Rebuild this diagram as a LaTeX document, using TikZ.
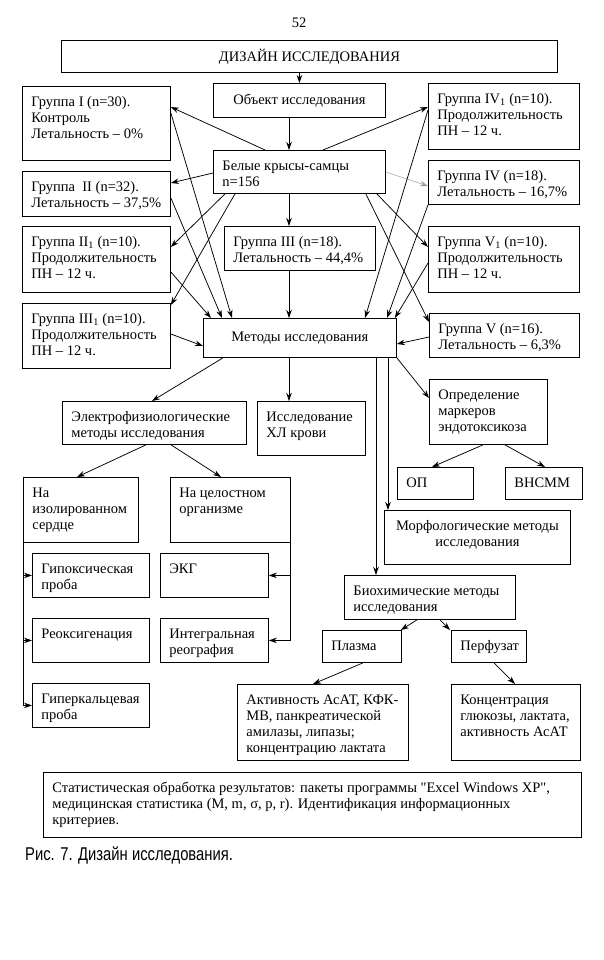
\documentclass[tikz,border=0pt]{standalone}
\usepackage{fontspec}
\setmainfont{Liberation Serif}
\newfontfamily\capf[FakeStretch=0.8]{Liberation Sans}
\usetikzlibrary{arrows.meta,calc}
\newcommand\bx[3]{\parbox[t][\dimexpr#2pt-17pt\relax][t]{\dimexpr#1pt-18pt\relax}{\raggedright\strut#3}}
\newcommand\bxc[3]{\parbox[t][\dimexpr#2pt-17pt\relax][c]{\dimexpr#1pt-18pt\relax}{\centering#3}}
\tikzset{
  bxs/.style={draw, line width=0.85pt, inner xsep=9pt, inner ysep=8.5pt, anchor=north west, font=\fontsize{14.5}{16}\selectfont},
  arr/.style={line width=0.75pt, -{Stealth[length=8pt,width=5.5pt]}},
  garr/.style={arr, draw=gray!75, line width=0.5pt},
  plain/.style={font=\fontsize{14.5}{16}\selectfont, inner sep=0pt}
}
\begin{document}
\begin{tikzpicture}[x=1pt,y=-1pt]
\fill[white] (0,0) rectangle (604,960);
\useasboundingbox (0,0) rectangle (604,960);

\node[plain] (pg) at (299,23) {52};

\node[bxs] (ttl) at (61,40) {\bxc{496}{32}{ДИЗАЙН ИССЛЕДОВАНИЯ}};
\node[bxs] (obj) at (213,83) {\bxc{172}{34}{Объект исследования}};
\node[bxs] (wh) at (213,150) {\bx{172}{43}{Белые крысы-самцы\\n=156}};

\node[bxs] (g1) at (22,86) {\bx{148}{74}{Группа I (n=30).\\Контроль\\Летальность – 0\%}};
\node[bxs] (g2) at (22,171) {\bx{148}{45}{Группа~ II (n=32).\\Летальность – 37,5\%}};
\node[bxs] (g21) at (22,226) {\bx{148}{66}{Группа II\textsubscript{1} (n=10).\\Продолжительность\\ПН – 12 ч.}};
\node[bxs] (g31) at (22,303) {\bx{148}{65}{Группа III\textsubscript{1} (n=10).\\Продолжительность\\ПН – 12 ч.}};
\node[bxs] (g3) at (224,226) {\bx{151}{44}{Группа III (n=18).\\Летальность – 44,4\%}};

\node[bxs] (g41) at (428,83) {\bx{151}{66}{Группа IV\textsubscript{1} (n=10).\\Продолжительность\\ПН – 12 ч.}};
\node[bxs] (g4) at (428,160) {\bx{151}{44}{Группа IV (n=18).\\Летальность – 16,7\%}};
\node[bxs] (g51) at (428,226) {\bx{151}{66}{Группа V\textsubscript{1} (n=10).\\Продолжительность\\ПН – 12 ч.}};
\node[bxs] (g5) at (429,313) {\bx{150}{44}{Группа V (n=16).\\Летальность – 6,3\%}};

\node[bxs] (met) at (203,318) {\bxc{193}{39}{Методы исследования}};

\node[bxs] (el) at (62,401) {\bx{184}{43}{Электрофизиологические\\методы исследования}};
\node[bxs] (xl) at (257,401) {\bx{108}{54}{Исследование\\ХЛ крови}};
\node[bxs] (opr) at (429,379) {\bx{118}{65}{Определение\\маркеров\\эндотоксикоза}};
\node[bxs] (op) at (397,467) {\bx{76}{32}{ОП}};
\node[bxs] (vn) at (505,467) {\bx{77}{32}{ВНСММ}};

\node[bxs] (iso) at (23,477) {\bx{115}{65}{На\\изолированном\\сердце}};
\node[bxs] (cel) at (170,477) {\bx{120}{65}{На целостном\\организме}};
\node[bxs] (mor) at (384,510) {\bx{186}{54}{\centering Морфологические методы\\исследования}};

\node[bxs] (hyp) at (32,553) {\bx{117}{44}{Гипоксическая\\проба}};
\node[bxs] (ekg) at (160,553) {\bx{108}{44}{ЭКГ}};
\node[bxs] (reo) at (32,618) {\bx{117}{44}{Реоксигенация}};
\node[bxs] (integ) at (160,618) {\bx{108}{44}{Интегральная\\реография}};
\node[bxs] (hyc) at (32,683) {\bx{117}{44}{Гиперкальцевая\\проба}};

\node[bxs] (bio) at (344,575) {\bx{171}{44}{Биохимические методы\\исследования}};
\node[bxs] (pla) at (322,630) {\bx{79}{32}{Плазма}};
\node[bxs] (per) at (451,630) {\bx{75}{32}{Перфузат}};
\node[bxs] (act) at (237,684) {\bx{171}{76}{\mbox{Активность АсАТ, КФК-}\\МВ, панкреатической\\амилазы, липазы;\\концентрацию лактата}};
\node[bxs] (con) at (451,684) {\bx{129}{76}{Концентрация\\глюкозы, лактата,\\активность АсАТ}};

\node[bxs] (stat) at (43,772) {\bx{538}{65}{Статистическая обработка результатов: пакеты программы \textquotedbl Excel Windows XP\textquotedbl,\\медицинская статистика (M, m, σ, p, r). Идентификация информационных\\критериев.}};

\node[anchor=west, inner sep=0pt, font=\capf\fontsize{18.5}{20}\selectfont] (cap) at (25,855) {Рис. 7. Дизайн исследования.};

% connectors
\coordinate (cx) at (289,0);
\coordinate (m1) at ($(met.south west)+(173,0)$);
\coordinate (m2) at ($(met.south west)+(185,0)$);

\draw[arr] (obj.north |- ttl.south) -- (obj.north);
\draw[arr] (cx |- obj.south) -- (cx |- wh.north);
\draw[arr] (cx |- wh.south) -- (cx |- g3.north);
\draw[arr] (cx |- g3.south) -- (cx |- met.north);
\draw[arr] (cx |- met.south) -- (cx |- xl.north);

\draw[arr] ($(wh.north west)+(52,0)$) -- ($(g1.north east)+(0,21)$);
\draw[arr] ($(wh.north west)+(110,0)$) -- ($(g41.north west)+(0,24)$);
\draw[arr] ($(wh.north west)+(0,23)$) -- ($(g2.north east)+(0,12)$);
\draw[garr] ($(wh.north east)+(0,22)$) -- ($(g4.north west)+(0,26)$);
\draw[arr] ($(wh.south west)+(12,0)$) -- ($(g21.north east)+(0,21)$);
\draw[arr] ($(wh.south west)+(22,0)$) -- ($(g31.north east)+(0,2)$);
\draw[arr] ($(wh.south east)+(-9,0)$) -- ($(g51.north west)+(0,21)$);
\draw[arr] ($(wh.south east)+(-20,0)$) -- ($(g5.north west)+(0,9)$);

\draw[arr] ($(g1.north east)+(0,27)$) -- ($(met.north west)+(29,0)$);
\draw[arr] ($(g2.north east)+(0,27)$) -- ($(met.north west)+(19,0)$);
\draw[arr] ($(g21.north east)+(0,46)$) -- ($(met.north west)+(8,0)$);
\draw[arr] ($(g31.north east)+(0,31)$) -- ($(met.north west)+(0,28)$);
\draw[arr] ($(g41.north west)+(0,27)$) -- ($(met.north west)+(162,0)$);
\draw[arr] (g4.south west) -- ($(met.north west)+(184,0)$);
\draw[arr] ($(g51.north west)+(0,37)$) -- ($(met.north east)+(-2,0)$);
\draw[arr] ($(g5.north west)+(0,24)$) -- ($(met.north east)+(0,26)$);

\draw[arr] ($(met.south west)+(20,0)$) -- ($(el.north west)+(90,0)$);
\draw[arr] (m1) -- (m1 |- bio.north);
\draw[arr] (m2) -- (m2 |- mor.north);
\draw[arr] (met.south east) -- ($(opr.north west)+(0,19)$);

\draw[arr] ($(el.south west)+(84,0)$) -- ($(iso.north west)+(54,0)$);
\draw[arr] ($(el.south west)+(109,0)$) -- ($(cel.north west)+(51,0)$);

\draw[arr] ($(opr.south west)+(54,0)$) -- ($(op.north west)+(35,0)$);
\draw[arr] ($(opr.south west)+(76,0)$) -- ($(vn.north west)+(40,0)$);

\draw[arr] (iso.south west) |- (hyc.west);
\draw[arr] (iso.south west |- hyp.west) -- (hyp.west);
\draw[arr] (iso.south west |- reo.west) -- (reo.west);

\draw[arr] (cel.south east) |- (integ.east);
\draw[arr] (cel.south east |- ekg.east) -- (ekg.east);

\draw[arr] ($(bio.south west)+(73,0)$) -- ($(pla.north east)+(-1,0)$);
\draw[arr] ($(bio.south west)+(96,0)$) -- ($(per.north west)+(-1,0)$);
\draw[arr] ($(pla.south west)+(41,0)$) -- ($(act.north west)+(76,0)$);
\draw[arr] ($(per.south west)+(43,0)$) -- ($(con.north west)+(64,0)$);
\end{tikzpicture}
\end{document}
